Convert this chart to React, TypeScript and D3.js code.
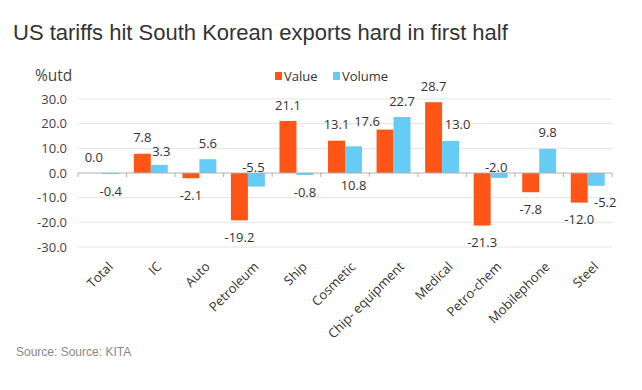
import React from "react";
import * as d3 from "d3";

const categories = ["Total", "IC", "Auto", "Petroleum", "Ship", "Cosmetic", "Chip- equipment", "Medical", "Petro-chem", "Mobilephone", "Steel"];
const seriesNames = ["Value", "Volume"];
const valueSeries = [0.0, 7.8, -2.1, -19.2, 21.1, 13.1, 17.6, 28.7, -21.3, -7.8, -12.0];
const volumeSeries = [-0.4, 3.3, 5.6, -5.5, -0.8, 10.8, 22.7, 13.0, -2.0, 9.8, -5.2];
const yTicks = [30, 20, 10, 0, -10, -20, -30];

const title = "US tariffs hit South Korean exports hard in first half";
const unitLabel = "%utd";
const sourceText = "Source: Source: KITA";

const colors: Record<string, string> = { Value: "#FF5516", Volume: "#66CCF5" };

// label placement tweaks (styling only)
const labelMode: Record<string, string> = {
  "Petroleum|Volume": "aboveZero",
  "Petro-chem|Volume": "aboveZero",
  "Cosmetic|Volume": "belowZero",
};
const labelNudge: Record<string, [number, number]> = {
  "IC|Volume": [2, 3],
  "Petroleum|Volume": [-3, 0],
  "Petro-chem|Volume": [-3, 0],
  "Chip- equipment|Value": [-18, 8],
  "Medical|Volume": [7, 0],
  "Steel|Volume": [9, 0],
};

export default function App() {
  const W = 642, H = 390;
  const plotL = 78, plotR = 612;
  const y = d3.scaleLinear().domain([-30, 30]).range([247, 99]);
  const x0 = d3.scaleBand<string>().domain(categories).range([plotL, plotR]).paddingInner(0).paddingOuter(0);
  const x1 = d3.scaleBand<string>().domain(seriesNames).range([0, x0.bandwidth()]).paddingInner(0).paddingOuter(0.43);
  const font = "'Open Sans', 'Noto Sans', sans-serif";
  const zeroY = y(0);
  const bw = x0.bandwidth();

  const rows = categories.map((c, i) => ({ c, vals: [valueSeries[i], volumeSeries[i]] }));

  return (
    <svg width={W} height={H} style={{ position: "absolute", left: 0, top: 0, background: "#fff" }}>
      <rect x={0} y={0} width={W} height={H} fill="#fff" />
      <text x={13} y={40} fontFamily="'Liberation Sans', Arial, sans-serif" fontSize={22} fill="#333">{title}</text>
      <text x={35} y={81} fontFamily={font} fontSize={15.5} fill="#444">{unitLabel}</text>

      {/* legend */}
      {seriesNames.map((s, i) => {
        const lx = i === 0 ? 275 : 333;
        return (
          <g key={s}>
            <rect x={lx} y={72} width={7} height={8} fill={colors[s]} />
            <text x={lx + 9} y={76} dy="0.35em" fontFamily={font} fontSize={13} fill="#333">{s}</text>
          </g>
        );
      })}

      {/* gridlines */}
      {yTicks.map((t) => (
        <g key={t}>
          {t !== 0 && <line x1={plotL} x2={plotR} y1={y(t)} y2={y(t)} stroke="#e4e4e4" strokeWidth={1} />}
          <text x={67} y={y(t)} dy="0.35em" textAnchor="end" fontFamily={font} fontSize={13} fill="#444">{t.toFixed(1)}</text>
        </g>
      ))}

      {/* bars */}
      {rows.map((r) => (
        <g key={r.c} transform={`translate(${x0(r.c)},0)`}>
          {seriesNames.map((s, j) => {
            const v = r.vals[j];
            return (
              <rect key={s} x={x1(s)} width={x1.bandwidth()} y={Math.min(y(v), zeroY)} height={Math.abs(y(v) - zeroY)} fill={colors[s]} />
            );
          })}
        </g>
      ))}

      {/* zero axis */}
      <line x1={plotL} x2={plotR} y1={zeroY} y2={zeroY} stroke="#b0b0b0" strokeWidth={1} />
      {d3.range(categories.length + 1).map((i) => (
        <line key={i} x1={plotL + i * bw} x2={plotL + i * bw} y1={zeroY} y2={zeroY + 4} stroke="#b0b0b0" strokeWidth={1} />
      ))}

      {/* data labels */}
      {rows.map((r) =>
        seriesNames.map((s, j) => {
          const v = r.vals[j];
          const key = `${r.c}|${s}`;
          const cx = (x0(r.c) as number) + (x1(s) as number) + x1.bandwidth() / 2;
          let cy = v >= 0 ? y(v) - 16 : y(v) + 17;
          const mode = labelMode[key];
          if (mode === "aboveZero") cy = zeroY - 6;
          if (mode === "belowZero") cy = zeroY + 12;
          const [dx, dy] = labelNudge[key] || [0, 0];
          return (
            <text key={key} x={cx + dx} y={cy + dy} dy="0.35em" textAnchor="middle" fontFamily={font} fontSize={13} fill="#333">
              {v.toFixed(1)}
            </text>
          );
        })
      )}

      {/* category labels */}
      {categories.map((c) => {
        const cx = (x0(c) as number) + bw / 2;
        return (
          <text key={c} transform={`translate(${cx + 5},261) rotate(-45)`} dy="0.71em" textAnchor="end" fontFamily={font} fontSize={13} fill="#333">
            {c}
          </text>
        );
      })}

      <text x={16} y={352} dy="0.35em" fontFamily="'Liberation Sans', Arial, sans-serif" fontSize={12} fill="#888">{sourceText}</text>
    </svg>
  );
}
